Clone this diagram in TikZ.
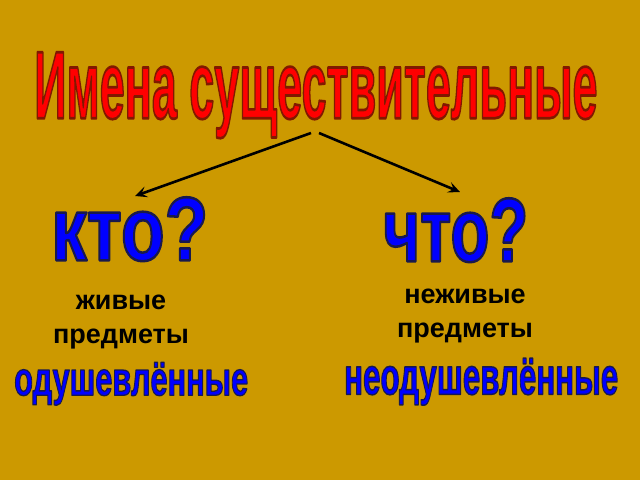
\documentclass[tikz,border=0pt]{standalone}
\usepackage{fontspec}
\setmainfont{Liberation Sans}
\usepackage{graphicx}
\usetikzlibrary{arrows.meta}
\definecolor{slide}{HTML}{CC9900}
\definecolor{titlered}{HTML}{FF0000}
\definecolor{askblue}{HTML}{0000FF}
% stroke colours of the outlines, as pdf rgb triples
\newcommand{\titleline}{0.5 0.1 0}
\newcommand{\askline}{0.1 0.1 0.3}
\newcommand{\wordart}[5]{\resizebox*{#1}{#2}{\textcolor{#3}{\special{pdf:code #4 RG 0.28 w 1 j 2 Tr}\bfseries #5\special{pdf:code 0 Tr}}}}

\begin{document}
\begin{tikzpicture}[x=1pt,y=-1pt,
	art/.style={anchor=north west, inner sep=0pt},
	note/.style={align=center, anchor=base, inner sep=0pt, font=\bfseries\fontsize{27}{34}\selectfont}]
\useasboundingbox (0,0) rectangle (640,480);
\fill [slide] (0,0) rectangle (640,480);
	% title and questions
\node (title) [art] at (34,52) {\wordart{563pt}{86pt}{titlered}{\titleline}{Имена существительные}};
\node (kto) [art] at (51,197) {\wordart{157pt}{64pt}{askblue}{\askline}{кто?}};
\node (chto) [art] at (383,198) {\wordart{145pt}{64pt}{askblue}{\askline}{что?}};
\coordinate (fromL) at (311,133);
\coordinate (fromR) at (319,133);
\coordinate (toL) at (135,196);
\coordinate (toR) at (460,192);
\draw [line width=2.6pt, -{Stealth[length=12pt,width=11pt,inset=5pt]}] (fromL) -- (toL);
\draw [line width=2.6pt, -{Stealth[length=12pt,width=11pt,inset=5pt]}] (fromR) -- (toR);
	% answers
\node (alive) [note] at (121,343) {живые\\предметы};
\node (thing) [note] at (465,337) {неживые\\предметы};
\node (anim) [art] at (14,362) {\wordart{234pt}{43pt}{askblue}{\askline}{одушевлённые}};
\node (inanim) [art] at (344,358) {\wordart{274pt}{47pt}{askblue}{\askline}{неодушевлённые}};
\end{tikzpicture}
\end{document}
